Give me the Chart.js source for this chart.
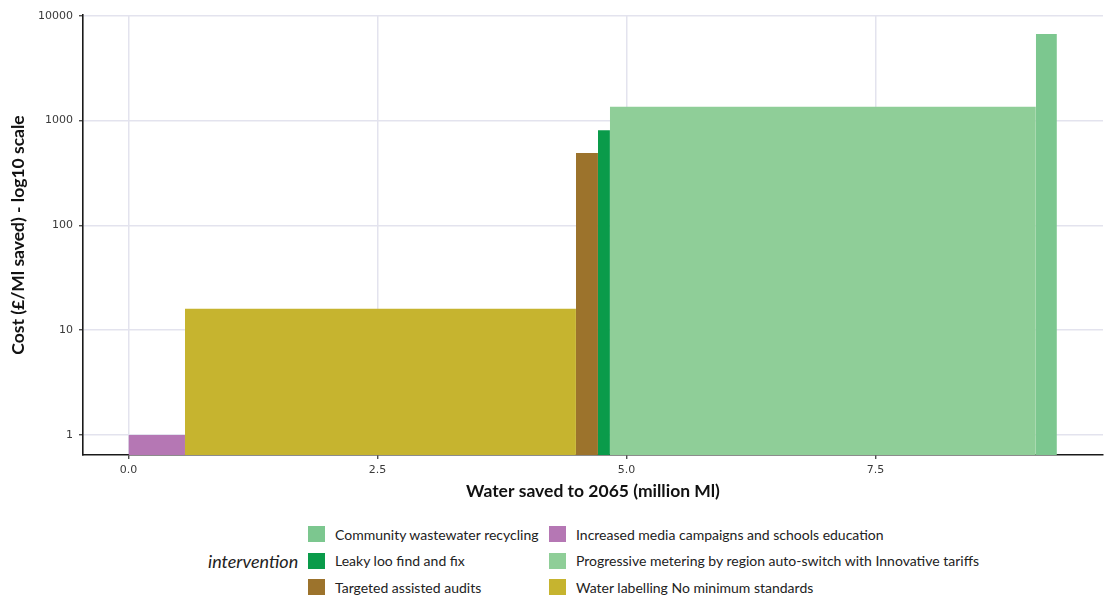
<!DOCTYPE html>
<html>
<head>
<meta charset="utf-8">
<script src="https://cdn.jsdelivr.net/npm/chart.js@4"></script>
<style>
  html, body { margin: 0; padding: 0; background: #fff; }
  #wrap { position: relative; width: 1115px; height: 597px; overflow: hidden; }
  #chart { position: absolute; left: 0; top: 0; }
  #legendTitle { position: absolute; left: 208px; top: 550px; font: italic 18px Lato, sans-serif; color: #222; }
  #legend { position: absolute; left: 308px; top: 521px; display: grid; grid-template-columns: 241px auto;
            grid-template-rows: 26.5px 26.5px 26.5px; grid-auto-flow: row; font: 14px Lato, sans-serif; color: #222; }
  .item { display: flex; align-items: center; white-space: nowrap; }
  .key { width: 17px; height: 16px; margin-right: 10px; flex: none; }
</style>
</head>
<body>
<div id="wrap">
  <canvas id="chart" width="1115" height="505"></canvas>
  <div id="legendTitle">intervention</div>
  <div id="legend"></div>
</div>
<script>
// Interventions in order along the cost curve (cheapest first)
const interventions = [
  "Increased media campaigns and schools education",
  "Water labelling No minimum standards",
  "Targeted assisted audits",
  "Leaky loo find and fix",
  "Progressive metering by region auto-switch with Innovative tariffs",
  "Community wastewater recycling"
];
// Water saved to 2065 by each intervention (million Ml) -> bar widths
const waterSaved = [0.567, 3.925, 0.221, 0.120, 4.277, 0.211];
// Cost per Ml saved (£) -> bar heights
const costPerMl = [1.0, 16.0, 491, 808, 1358, 6700];
const colours = ["#b577b4", "#c6b42f", "#9c732c", "#0a9b4a", "#8fce98", "#7cc78f"];

const yTicks = [1, 10, 100, 1000, 10000];
const xTicks = [0, 2.5, 5, 7.5];

// Each intervention becomes a rectangle spanning its cumulative water savings
let start = 0;
const datasets = interventions.map((name, i) => {
  const x0 = start, x1 = start + waterSaved[i];
  start = x1;
  return {
    label: name,
    data: [{ x: x0, y: costPerMl[i] }, { x: x1, y: costPerMl[i] }],
    showLine: true,
    fill: 'start',
    backgroundColor: colours[i],
    borderColor: 'rgba(0,0,0,0)',
    borderWidth: 0,
    pointRadius: 0,
    pointHoverRadius: 0,
    tension: 0
  };
});

const gridColour = '#e3e3ee';
const tickFont = { family: 'DejaVu Sans', size: 11 };
const titleFont = { family: 'Lato', size: 17.5, weight: 'bold' };

new Chart(document.getElementById('chart'), {
  type: 'scatter',
  data: { datasets },
  options: {
    responsive: false,
    animation: false,
    layout: { padding: { top: 15, right: 12, left: 0, bottom: 0 } },
    plugins: { legend: { display: false }, tooltip: { enabled: false } },
    scales: {
      x: {
        type: 'linear',
        bounds: 'data',
        min: -0.457,
        max: 9.784,
        afterBuildTicks: s => { s.ticks = xTicks.map(v => ({ value: v })); },
        afterFit: s => { s.height = 50; },
        ticks: { font: tickFont, color: '#3a3a3a', padding: 5, maxRotation: 0,
                 callback: v => Number(v).toFixed(1) },
        grid: { color: gridColour, lineWidth: 1.5, tickColor: '#333', tickLength: 4, tickWidth: 1.2 },
        border: { display: true, color: '#1a1a1a', width: 1.6 },
        title: { display: true, text: 'Water saved to 2065 (million Ml)', font: titleFont, color: '#111',
                 padding: { top: 0, bottom: 3 } }
      },
      y: {
        type: 'logarithmic',
        bounds: 'data',
        min: 0.644,
        max: 10186,
        afterBuildTicks: s => { s.ticks = yTicks.map(v => ({ value: v })); },
        afterFit: s => { s.width = 83; },
        ticks: { font: tickFont, color: '#3a3a3a', padding: 6, callback: v => String(v) },
        grid: { color: gridColour, lineWidth: 1.5, tickColor: '#333', tickLength: 4, tickWidth: 1.2 },
        border: { display: true, color: '#1a1a1a', width: 1.6 },
        title: { display: true, text: 'Cost (£/Ml saved) - log10 scale', font: titleFont, color: '#111',
                 padding: { top: 8, bottom: 0 } }
      }
    }
  }
});

// Legend laid out in two columns, alphabetical, filled row by row
const legend = document.getElementById('legend');
interventions.map((name, i) => ({ name, colour: colours[i] }))
  .sort((a, b) => a.name.localeCompare(b.name))
  .forEach(entry => {
    const item = document.createElement('div');
    item.className = 'item';
    const key = document.createElement('span');
    key.className = 'key';
    key.style.background = entry.colour;
    const text = document.createElement('span');
    text.textContent = entry.name;
    item.appendChild(key);
    item.appendChild(text);
    legend.appendChild(item);
  });
</script>
</body>
</html>
